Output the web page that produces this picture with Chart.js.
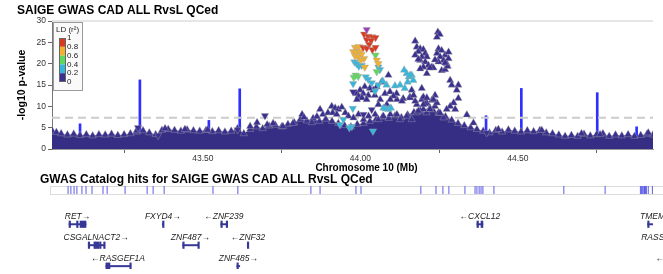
<!DOCTYPE html>
<html>
<head>
<meta charset="utf-8">
<script src="https://cdn.jsdelivr.net/npm/chart.js@4.4.1/dist/chart.umd.min.js"></script>
<style>
  html, body { margin: 0; padding: 0; background: #fff; }
  #wrap { position: relative; width: 663px; height: 274px; overflow: hidden; }
  #wrap canvas { position: absolute; left: 0; top: 0; }
</style>
</head>
<body>
<div id="wrap">
  <canvas id="assocChart" width="663" height="175"></canvas>
  <canvas id="genesChart" width="663" height="274"></canvas>
</div>
<script>
// region shown (chr10, Mb)
const xMin = 43.021, xMax = 44.929;
const xTicks = [43.5, 44.0, 44.5];
const sigLine = 7.3;

// GWAS catalog annotation lines in the association panel
const hitX = [43.110, 43.300, 43.519, 43.617, 44.399, 44.511, 44.752, 44.877];
const hitTop = [5.9, 16.2, 6.7, 14.1, 7.8, 14.2, 13.2, 5.2];

// top of the dense mass of low-LD variants
const bandX = [43.021,43.035,43.05,43.07,43.09,43.11,43.13,43.15,43.17,43.19,43.21,43.23,43.25,43.27,43.29,43.31,43.33,43.35,43.37,43.39,43.41,43.43,43.45,43.47,43.49,43.51,43.53,43.55,43.57,43.59,43.61,43.63,43.65,43.67,43.69,43.71,43.73,43.75,43.77,43.79,43.81,43.83,43.85,43.87,43.89,43.91,43.93,43.95,43.97,43.99,44.01,44.03,44.05,44.07,44.09,44.11,44.13,44.15,44.17,44.19,44.21,44.23,44.25,44.27,44.29,44.31,44.33,44.35,44.37,44.39,44.41,44.43,44.45,44.47,44.49,44.51,44.53,44.55,44.57,44.59,44.61,44.63,44.65,44.67,44.69,44.71,44.73,44.75,44.77,44.79,44.81,44.83,44.85,44.87,44.89,44.91,44.929];
const bandY = [4.3,3.9,3.6,3.3,3.5,3.2,3.4,3.1,3.4,3.3,3.5,3.2,3.4,3.6,4.0,4.3,3.8,3.4,4.4,4.6,4.4,4.2,4.5,4.3,4.2,4.4,4.1,4.3,4.0,4.2,4.8,3.6,4.6,5.2,4.8,5.4,5.6,5.2,5.8,6.2,7.0,6.6,7.2,6.5,7.0,6.5,6.0,5.5,5.2,5.8,6.0,6.5,7.0,7.5,7.2,7.8,7.4,8.0,8.6,9.0,8.5,9.2,8.4,7.6,6.8,6.0,5.5,5.0,4.6,4.2,3.8,4.4,4.0,4.5,4.2,4.0,4.3,4.1,4.4,3.8,3.6,3.3,3.0,3.2,3.0,3.5,3.1,3.4,3.6,3.0,3.3,3.1,3.4,3.0,3.2,3.5,3.3];

// variants above the mass, [position Mb, -log10 p], grouped by LD bin and effect direction
const leadSnp = [[44.020, 28.0]];
const redDown = [[44.012,26.9],[44.025,26.4],[44.038,26.3],[44.048,26.1],[44.020,25.6],[44.034,25.4],[44.028,24.5],[44.009,23.8],[44.020,23.6],[44.038,23.3],[44.048,23.8]];
const orangeDown = [[43.983,23.8],[43.991,23.6],[43.995,24.0],[43.977,22.8],[43.988,22.6],[43.999,22.8],[43.983,21.8],[43.993,21.6],[44.004,22.2],[44.012,21.2],[44.002,20.8],[44.052,20.8],[44.057,20.0],[44.014,19.2]];
const greenDown = [[44.048,22.0],[43.985,17.3],[43.993,17.0],[43.979,16.8],[44.052,18.1]];
const cyanDown = [[43.981,20.4],[43.988,20.0],[43.995,19.4],[44.004,19.6],[44.057,19.2],[44.062,18.6],[44.017,16.9],[44.025,16.3],[43.977,15.3],[44.057,15.0],[44.036,15.5],[44.047,13.6],[43.976,9.5],[43.946,6.9],[43.973,5.3],[44.040,4.2],[43.935,5.7],[43.965,5.0]];
const cyanUp = [[44.083,15.0],[44.110,14.8],[44.126,15.0],[44.141,14.2],[44.147,17.7],[44.154,16.9],[44.163,17.3],[44.139,18.5],[44.150,15.7],[44.168,16.1],[44.158,17.3],[44.071,15.9],[44.073,9.6],[44.081,9.4],[44.089,9.3],[44.097,9.6]];
const purpleDown = [[43.294,5.0],[43.358,3.2],[43.610,4.5],[43.697,7.8],[43.977,13.4],[44.010,8.1],[44.036,9.2],[44.401,3.8]];
const purpleUp = [
  [43.290,4.3],[43.380,4.8],[43.443,4.6],[43.515,4.5],
  [43.650,5.3],[43.672,6.2],[43.704,5.7],[43.723,6.0],[43.754,5.3],[43.786,6.0],[43.815,8.1],[43.821,7.4],[43.846,6.2],[43.862,7.6],[43.872,9.3],[43.881,8.1],[43.897,8.5],
  [43.909,10.0],[43.920,9.6],[43.930,9.3],[43.941,9.8],[43.912,8.5],[43.925,8.1],[43.952,8.5],[43.962,7.7],[43.978,7.3],[43.994,8.1],[44.010,6.9],[44.026,7.7],[44.047,8.1],[44.057,6.9],[44.073,7.7],[44.095,8.1],[44.116,8.1],[44.126,6.9],[44.147,7.7],[44.163,6.9],[44.179,8.5],[44.200,9.3],[44.221,9.6],[44.237,10.0],[44.248,8.5],
  [44.089,17.3],[44.067,15.7],[44.052,14.6],[44.041,13.8],[44.030,14.2],[44.014,14.6],[43.999,13.8],[43.988,13.0],[44.009,13.0],[44.025,12.6],[44.046,12.6],[44.078,13.0],[44.094,13.4],[44.115,13.0],[44.136,11.8],[44.157,12.2],
  [43.994,12.4],[44.005,12.0],[44.020,11.6],[43.989,11.6],[44.063,11.6],[44.057,10.4],[44.084,10.4],[44.116,11.6],[44.132,11.2],[44.158,12.0],[44.179,10.4],[44.195,11.6],[44.211,10.8],[44.105,12.4],[44.095,11.6],
  [44.246,27.4],[44.252,26.9],[44.243,26.2],[44.174,25.3],[44.179,23.9],[44.190,23.5],[44.200,23.3],[44.184,22.8],[44.206,22.4],[44.174,22.0],[44.195,21.6],[44.211,21.6],[44.190,20.8],[44.206,20.4],[44.216,19.6],[44.200,19.2],[44.227,19.2],[44.211,17.7],[44.190,18.8],
  [44.248,23.5],[44.258,23.1],[44.243,22.4],[44.269,22.0],[44.253,21.6],[44.280,22.7],[44.264,20.8],[44.274,20.0],[44.248,20.4],[44.280,21.2],[44.285,16.1],[44.290,15.0],[44.311,15.0],[44.306,13.8],[44.311,11.9],
  [44.195,14.2],[44.163,13.8],[44.169,12.6],[44.200,12.2],[44.237,12.6],[44.227,11.4],[44.206,10.6],[44.232,19.0],[44.221,19.0],[44.258,18.4],[44.269,18.6],[44.277,19.4],[44.269,20.2],[44.237,20.9],[44.184,21.0],
  [44.296,10.8],[44.285,10.0],[44.274,9.3],[44.301,9.3],[44.338,8.0],[44.359,6.1],[44.264,7.3],[44.253,8.4],[44.221,9.3],[44.184,8.9],[44.243,10.8],[44.232,11.6],[44.211,12.0],[44.174,11.2],[44.200,10.4],
  [44.438,4.6],[44.576,4.4],[44.702,3.6],[44.761,3.4],[44.914,3.8]
];

// LD legend
const ldLabels = ['1', '0.8', '0.6', '0.4', '0.2', '0'];
const ldColors = ['#d9391f', '#f2b031', '#5fd85f', '#36b6da', '#3a3090'];

// GWAS catalog track
const catalogX = [43.072,43.081,43.091,43.100,43.116,43.129,43.148,43.183,43.196,43.253,43.323,43.342,43.377,43.532,43.611,43.843,43.872,43.986,44.002,44.192,44.240,44.262,44.281,44.332,44.364,44.370,44.377,44.383,44.389,44.424,44.646,44.777,44.889,44.892,44.895,44.898,44.902,44.905,44.908,44.914,44.927];

// genes
const geneNames = ['RET', 'FXYD4', 'ZNF239', 'CXCL12', 'TMEM72', 'CSGALNACT2', 'ZNF487', 'ZNF32', 'RASSF4', 'RASGEF1A', 'ZNF485', 'TMEM72-AS1'];
const geneStart = [43.075, 43.371, 43.557, 44.370, 44.912, 43.136, 43.436, 43.641, 44.940, 43.192, 43.608, 45.005];
const geneEnd = [43.129, 43.375, 43.576, 44.389, 45.000, 43.186, 43.485, 43.645, 44.975, 43.269, 43.617, 45.065];
const geneStrand = ['+', '+', '-', '-', '+', '+', '+', '-', '+', '-', '+', '-'];
const geneRow = [1, 1, 1, 1, 1, 2, 2, 2, 2, 3, 3, 3];
const geneExons = [
  [[43.075,43.0755],[43.099,43.0995],[43.110,43.129]],
  [[43.372,43.375]],
  [[43.557,43.558],[43.574,43.576]],
  [[44.370,44.375],[44.383,44.389]],
  [[44.912,44.913]],
  [[43.136,43.1365],[43.154,43.156],[43.159,43.162],[43.165,43.167],[43.172,43.174],[43.185,43.186]],
  [[43.436,43.437],[43.484,43.485]],
  [[43.641,43.645]],
  [],
  [[43.192,43.205],[43.268,43.269]],
  [[43.608,43.609]],
  []
];

const FONT = '"Liberation Sans", Arial, Helvetica, sans-serif';
Chart.defaults.font.family = FONT;
Chart.defaults.color = '#333';

function toXY(list) {
  return list.map(p => ({ x: p[0], y: p[1] }));
}

function ldSet(list, color, down, order) {
  return {
    type: 'scatter',
    data: toXY(list),
    pointStyle: 'triangle',
    pointRotation: down ? 180 : 0,
    pointRadius: 4.3,
    pointBackgroundColor: color,
    pointBorderColor: 'rgba(165,165,165,0.65)',
    pointBorderWidth: 0.6,
    order: order
  };
}

const assocText = {
  id: 'assocText',
  beforeDatasetsDraw(chart) {
    const { ctx, chartArea } = chart;
    ctx.save();
    ctx.strokeStyle = '#e6e6e6';
    ctx.lineWidth = 2;
    ctx.beginPath();
    ctx.moveTo(chartArea.left, chartArea.top);
    ctx.lineTo(chartArea.right, chartArea.top);
    ctx.stroke();
    ctx.restore();
  },
  afterDraw(chart) {
    const { ctx, chartArea } = chart;
    ctx.save();
    ctx.fillStyle = '#000';
    ctx.font = 'bold 12px ' + FONT;
    ctx.textAlign = 'left';
    ctx.textBaseline = 'alphabetic';
    ctx.fillText('SAIGE GWAS CAD ALL RvsL QCed', 17, 14);

    ctx.font = 'bold 10px ' + FONT;
    ctx.textAlign = 'center';
    ctx.textBaseline = 'middle';
    ctx.fillText('Chromosome 10 (Mb)', (chartArea.left + chartArea.right) / 2 + 14, 168);
    ctx.translate(22, (chartArea.top + chartArea.bottom) / 2);
    ctx.rotate(-Math.PI / 2);
    ctx.font = 'bold 10.5px ' + FONT;
    ctx.fillText('-log10 p-value', 0, 0);
    ctx.restore();

    // LD legend box
    ctx.save();
    ctx.fillStyle = 'rgba(250,250,250,0.95)';
    ctx.strokeStyle = '#9a9a9a';
    ctx.lineWidth = 1;
    ctx.fillRect(53.5, 22.5, 29, 68);
    ctx.strokeRect(53.5, 22.5, 29, 68);
    ctx.fillStyle = '#222';
    ctx.font = '8px ' + FONT;
    ctx.textAlign = 'left';
    ctx.textBaseline = 'middle';
    ctx.fillText('LD (r\u00b2)', 56, 29.5);
    const top = 38, h = 8.8;
    ldColors.forEach((c, i) => {
      ctx.fillStyle = c;
      ctx.fillRect(59, top + i * h, 6.5, h);
    });
    ctx.strokeStyle = '#666';
    ctx.strokeRect(59.5, top + 0.5, 6, h * 5 - 1);
    ctx.fillStyle = '#222';
    ldLabels.forEach((t, i) => {
      ctx.fillText(t, 67, top + i * h);
    });
    ctx.restore();
  }
};

new Chart(document.getElementById('assocChart'), {
  type: 'scatter',
  data: {
    datasets: [
      {
        type: 'bar',
        data: hitX.map((x, i) => ({ x: x, y: [0, hitTop[i]] })),
        backgroundColor: '#2f2fff',
        barThickness: 2,
        order: 10
      },
      {
        type: 'line',
        data: [{ x: xMin, y: sigLine }, { x: xMax, y: sigLine }],
        borderColor: '#cccccc',
        borderWidth: 2,
        borderDash: [8, 5],
        pointRadius: 0,
        fill: false,
        order: 9
      },
      {
        type: 'line',
        data: bandX.map((x, i) => ({ x: x, y: bandY[i] })),
        fill: 'origin',
        backgroundColor: '#352e84',
        borderColor: '#352e84',
        borderWidth: 0,
        tension: 0,
        pointStyle: 'triangle',
        pointRadius: 4.3,
        pointBackgroundColor: '#3a3090',
        pointBorderColor: 'rgba(165,165,165,0.65)',
        pointBorderWidth: 0.6,
        order: 8
      },
      ldSet(purpleUp, '#3a3090', false, 7),
      ldSet(purpleDown, '#3a3090', true, 6),
      ldSet(cyanUp, ldColors[3], false, 5),
      ldSet(cyanDown, ldColors[3], true, 5),
      ldSet(greenDown, ldColors[2], true, 4),
      ldSet(orangeDown, ldColors[1], true, 3),
      ldSet(redDown, ldColors[0], true, 2),
      ldSet(leadSnp, '#9b3fb5', true, 1)
    ]
  },
  options: {
    responsive: false,
    animation: false,
    events: [],
    layout: { padding: { top: 21, right: 10, bottom: 0, left: 0 } },
    plugins: { legend: { display: false }, tooltip: { enabled: false } },
    scales: {
      x: {
        type: 'linear',
        min: xMin,
        max: xMax,
        offset: false,
        afterBuildTicks: scale => { scale.ticks = xTicks.map(v => ({ value: v })); },
        afterFit: scale => { scale.height = 26; },
        ticks: { callback: v => Number(v).toFixed(2), font: { size: 8.5 }, color: '#333', padding: 1, maxRotation: 0 },
        grid: { display: true, drawOnChartArea: false, drawTicks: true, tickLength: 4, color: '#666' },
        border: { display: true, color: '#999' }
      },
      y: {
        type: 'linear',
        min: 0,
        max: 30,
        afterFit: scale => { scale.width = 52; },
        ticks: { stepSize: 5, font: { size: 8.5 }, color: '#333', padding: 2 },
        grid: { display: true, drawOnChartArea: false, drawTicks: true, tickLength: 4, color: '#666' },
        border: { display: true, color: '#777' }
      }
    }
  },
  plugins: [assocText]
});

// lower panel: rows of the track / gene glyphs (offset from panel top)
const trackY = 21;
function rowY(r) { return 57 + (r - 1) * 22; }

const geneText = {
  id: 'geneText',
  beforeDatasetsDraw(chart) {
    const { ctx } = chart;
    const yS = chart.scales.y;
    ctx.save();
    ctx.strokeStyle = '#dcdcdc';
    ctx.lineWidth = 1;
    const t = yS.getPixelForValue(trackY);
    ctx.strokeRect(50.5, Math.round(t - 4) + 0.5, 640, 8);
    ctx.restore();
  },
  afterDraw(chart) {
    const { ctx } = chart;
    const xS = chart.scales.x, yS = chart.scales.y;
    ctx.save();
    ctx.fillStyle = '#000';
    ctx.font = 'bold 12px ' + FONT;
    ctx.textAlign = 'left';
    ctx.textBaseline = 'alphabetic';
    ctx.fillText('GWAS Catalog hits for SAIGE GWAS CAD ALL RvsL QCed', 40, yS.getPixelForValue(trackY) - 7);

    ctx.font = 'italic 8.5px ' + FONT;
    ctx.fillStyle = '#222';
    ctx.textAlign = 'center';
    ctx.textBaseline = 'middle';
    geneNames.forEach((n, i) => {
      const label = geneStrand[i] === '+' ? n + '\u2192' : '\u2190' + n;
      const cx = xS.getPixelForValue((geneStart[i] + geneEnd[i]) / 2);
      ctx.fillText(label, cx, yS.getPixelForValue(rowY(geneRow[i])) - 8);
    });
    ctx.restore();
  }
};

const exonData = [];
geneExons.forEach((list, i) => {
  list.forEach(e => exonData.push({ x: e, y: rowY(geneRow[i]) }));
});

new Chart(document.getElementById('genesChart'), {
  type: 'bar',
  data: {
    datasets: [
      {
        type: 'scatter',
        data: catalogX.map(x => ({ x: x, y: trackY })),
        pointStyle: 'line',
        pointRotation: 90,
        pointRadius: 4,
        pointBorderColor: '#5d5de6',
        pointBorderWidth: 1,
        order: 3
      },
      {
        data: geneNames.map((n, i) => ({ x: [geneStart[i], geneEnd[i]], y: rowY(geneRow[i]) })),
        backgroundColor: '#363696',
        barThickness: 1.3,
        grouped: false,
        clip: 0,
        order: 2
      },
      {
        data: exonData,
        backgroundColor: '#363696',
        barThickness: 6.5,
        minBarLength: 1.5,
        grouped: false,
        clip: 0,
        order: 1
      }
    ]
  },
  options: {
    indexAxis: 'y',
    responsive: false,
    animation: false,
    events: [],
    layout: { padding: { top: 170, right: 10, bottom: 0, left: 52 } },
    plugins: { legend: { display: false }, tooltip: { enabled: false } },
    scales: {
      x: { type: 'linear', min: xMin, max: xMax, display: false, offset: false },
      y: { type: 'linear', min: 0, max: 104, reverse: true, display: false, offset: false }
    }
  },
  plugins: [geneText]
});
</script>
</body>
</html>
